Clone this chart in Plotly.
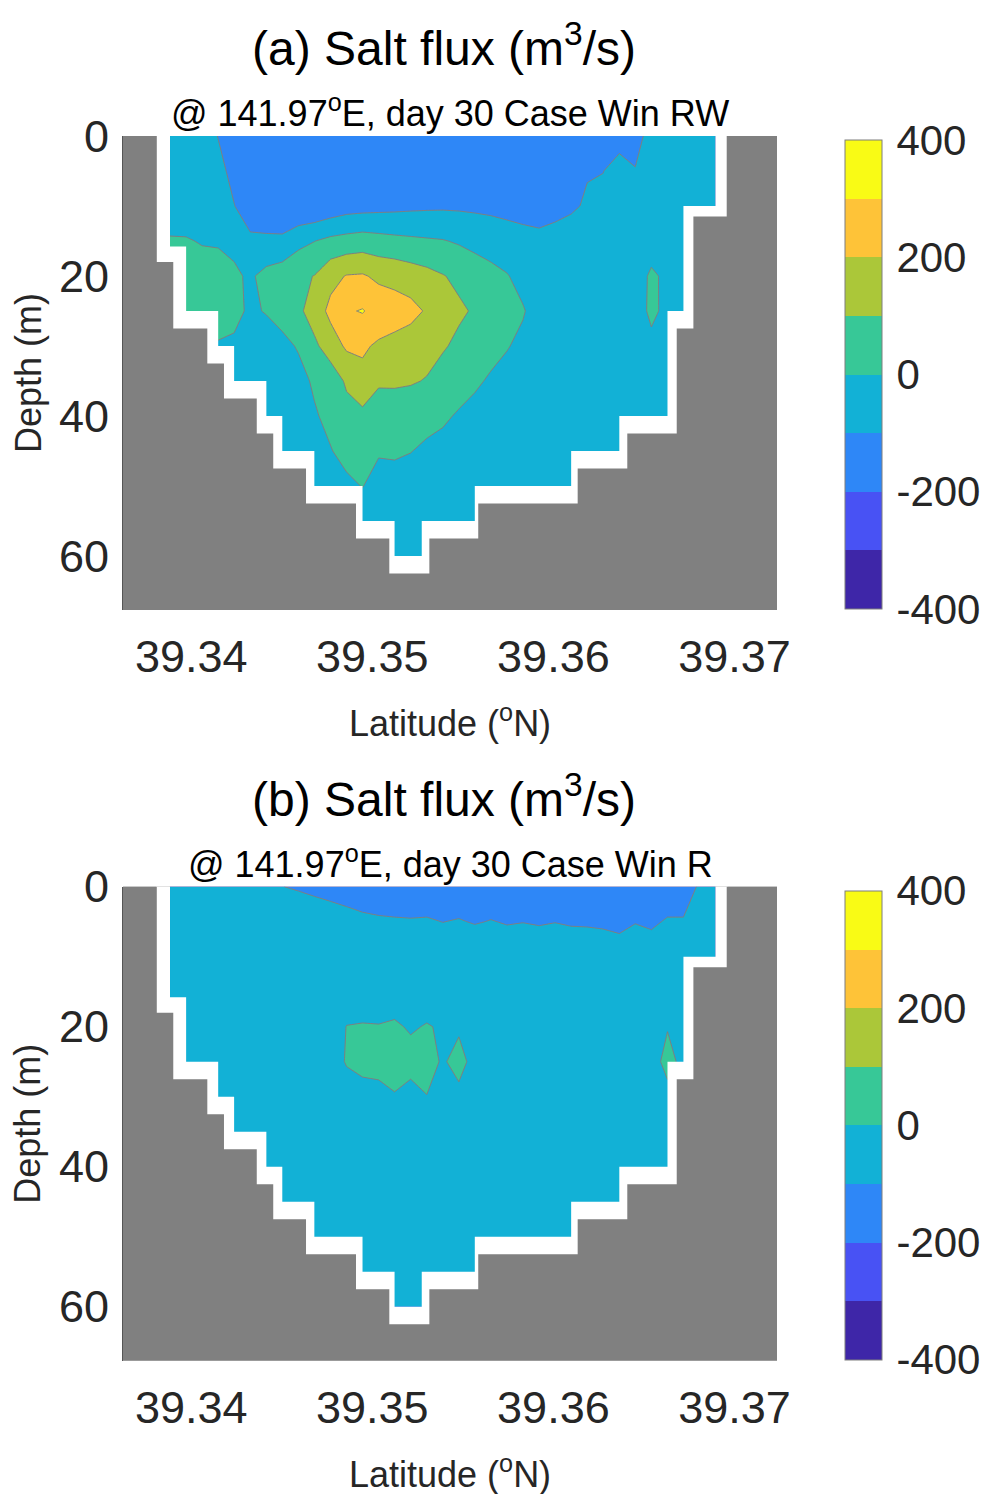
import plotly.graph_objects as go

# ---------------------------------------------------------------------------
# Model grid: latitude of the computational columns (deg N) and depth of the
# vertical levels (m).
# ---------------------------------------------------------------------------
lat_nodes = [
    39.33883, 39.33972, 39.34060, 39.34149, 39.34237, 39.34326, 39.34415,
    39.34503, 39.34592, 39.34680, 39.34769, 39.34858, 39.34946, 39.35035,
    39.35123, 39.35212, 39.35301, 39.35389, 39.35478, 39.35566, 39.35655,
    39.35744, 39.35832, 39.35921, 39.36009, 39.36098, 39.36187, 39.36275,
    39.36364, 39.36452, 39.36541, 39.36630, 39.36718, 39.36807, 39.36895,
]
depth_nodes = [0, 5, 10, 15, 20, 25, 30, 35, 40, 45, 50, 55, 60]

# Salt flux (m^3/s) on the section, case "Win RW" (rows = depth levels)
flux_rw = [
    [-60, -60, -60, -102, -150, -150, -150, -150, -150, -150, -150, -150, -150, -150, -150, -150, -150, -150, -150, -150, -150, -150, -150, -150, -150, -150, -150, -150, -150, -130, -70, -60, -60, -60, -60],
    [-60, -60, -60, -80, -120, -145, -145, -145, -145, -145, -145, -145, -145, -145, -145, -145, -145, -145, -145, -145, -145, -145, -145, -145, -145, -145, -105, -102, -50, -96, -60, -60, -60, -60, -60],
    [-60, -60, -60, -65, -98, -140, -140, -140, -190, -188, -165, -143, -137, -131, -126, -120, -116, -114, -115, -115, -119, -130, -145, -160, -134, -112, -90, -70, -60, -60, -60, -60, -60, -60, -60],
    [10, 8, -7, -10, -25, -86, -89, -90, -30, -2, 24, 36, 47, 36, 26, 18, 11, 5, -10, -40, -50, -55, -60, -65, -60, -60, -60, -60, -60, -60, -60, -60, -60, -60, -60],
    [40, 45, 45, 40, 17, -15, 33, 60, 85, 102, 170, 205, 210, 180, 170, 150, 130, 105, 80, 75, 33, 5, -30, -55, -60, -60, -60, -60, -60, -60, 20, -25, -50, -55, -60],
    [40, 40, 40, 40, 20, -12, 5, 35, 80, 145, 225, 290, 306, 265, 245, 230, 190, 150, 115, 90, 65, 35, 7, -40, -55, -60, -60, -60, -60, -60, 25, -30, -50, -55, -60],
    [-20, -20, -20, -8, -12, -40, -40, -25, 8, 80, 150, 215, 215, 185, 170, 150, 130, 110, 80, 50, 30, 5, -20, -50, -55, -60, -60, -60, -60, -60, -30, -45, -55, -60, -60],
    [-50, -50, -50, -50, -50, -50, -55, -50, -30, 13, 40, 115, 171, 110, 112, 108, 95, 60, 40, 15, -12, -30, -50, -60, -60, -60, -60, -60, -60, -60, -60, -60, -60, -60, -60],
    [-50, -50, -50, -50, -50, -50, -50, -50, -50, -10, 25, 65, 75, 60, 55, 45, 35, 15, -10, -30, -40, -60, -60, -60, -60, -60, -60, -60, -60, -60, -60, -60, -60, -60, -60],
    [-50, -50, -50, -50, -50, -50, -50, -50, -50, -50, -5, 30, 40, 10, 15, 3, -20, -30, -45, -55, -55, -55, -55, -55, -55, -55, -55, -55, -55, -55, -55, -55, -55, -55, -55],
    [-55, -55, -55, -55, -55, -55, -55, -55, -55, -55, -55, -20, 3, -40, -43, -50, -55, -55, -55, -55, -55, -55, -55, -55, -55, -55, -55, -55, -55, -55, -55, -55, -55, -55, -55],
    [-60, -60, -60, -60, -60, -60, -60, -60, -60, -60, -60, -60, -60, -60, -60, -60, -60, -60, -60, -60, -60, -60, -60, -60, -60, -60, -60, -60, -60, -60, -60, -60, -60, -60, -60],
    [-60, -60, -60, -60, -60, -60, -60, -60, -60, -60, -60, -60, -60, -60, -60, -60, -60, -60, -60, -60, -60, -60, -60, -60, -60, -60, -60, -60, -60, -60, -60, -60, -60, -60, -60],
]

# Salt flux (m^3/s) on the section, case "Win R"
flux_r = [
    [-60, -60, -60, -60, -60, -60, -60, -99, -107, -119, -136, -166, -154, -146, -153, -154, -153, -150, -150, -150, -148, -150, -150, -150, -150, -150, -150, -150, -150, -150, -150, -153, -153, -87, -60],
    [-50, -50, -50, -50, -50, -50, -50, -50, -50, -50, -50, -50, -80, -90, -92, -94, -92, -101, -95, -105, -97, -105, -102, -106, -102, -107, -108, -112, -120, -103, -113, -92, -92, -60, -55],
    [-50, -50, -50, -50, -50, -50, -50, -50, -50, -50, -50, -50, -50, -50, -50, -50, -50, -50, -50, -40, -50, -52, -35, -53, -35, -53, -55, -55, -61, -53, -56, -50, -50, -50, -50],
    [-50, -50, -50, -50, -50, -50, -50, -50, -50, -50, -50, -50, -50, -50, -50, -50, -50, -50, -50, -50, -50, -50, -50, -50, -50, -50, -50, -50, -50, -50, -50, -50, -50, -50, -50],
    [-50, -50, -50, -50, -50, -50, -50, -50, -50, -50, -50, 2, 6, 4, 13, -10, 6, -10, -11, -40, -50, -50, -50, -50, -50, -50, -50, -50, -50, -50, -45, -5, -40, -50, -50],
    [-50, -50, -50, -50, -50, -50, -50, -50, -50, -50, -50, 8, 40, 40, 40, 33, 30, -9, 27, -27, -50, -50, -50, -50, -50, -50, -50, -50, -50, -50, -40, 30, -25, -50, -50],
    [-50, -50, -50, -50, -50, -50, -50, -50, -50, -50, -50, -50, -51, -37, -6.5, -33, -2, -30, -20, -45, -50, -50, -50, -50, -50, -50, -50, -50, -50, -50, -50, -29, -50, -50, -50],
    [-50, -50, -50, -50, -50, -50, -50, -50, -50, -50, -50, -50, -50, -50, -50, -50, -50, -50, -50, -50, -50, -50, -50, -50, -50, -50, -50, -50, -50, -50, -50, -50, -50, -50, -50],
    [-50, -50, -50, -50, -50, -50, -50, -50, -50, -50, -50, -50, -50, -50, -50, -50, -50, -50, -50, -50, -50, -50, -50, -50, -50, -50, -50, -50, -50, -50, -50, -50, -50, -50, -50],
    [-50, -50, -50, -50, -50, -50, -50, -50, -50, -50, -50, -50, -50, -50, -50, -50, -50, -50, -50, -50, -50, -50, -50, -50, -50, -50, -50, -50, -50, -50, -50, -50, -50, -50, -50],
    [-50, -50, -50, -50, -50, -50, -50, -50, -50, -50, -50, -50, -50, -50, -50, -50, -50, -50, -50, -50, -50, -50, -50, -50, -50, -50, -50, -50, -50, -50, -50, -50, -50, -50, -50],
    [-50, -50, -50, -50, -50, -50, -50, -50, -50, -50, -50, -50, -50, -50, -50, -50, -50, -50, -50, -50, -50, -50, -50, -50, -50, -50, -50, -50, -50, -50, -50, -50, -50, -50, -50],
    [-50, -50, -50, -50, -50, -50, -50, -50, -50, -50, -50, -50, -50, -50, -50, -50, -50, -50, -50, -50, -50, -50, -50, -50, -50, -50, -50, -50, -50, -50, -50, -50, -50, -50, -50],
]

# Edge of the computed (wet) domain, running from the surface on the south
# side around the bottom to the surface on the north side.
domain_lat = [39.33883, 39.33883, 39.33972, 39.33972, 39.34149, 39.34149,
              39.34237, 39.34237, 39.34415, 39.34415, 39.34503, 39.34503,
              39.34680, 39.34680, 39.34946, 39.34946, 39.35123, 39.35123,
              39.35273, 39.35273, 39.35566, 39.35566, 39.36098, 39.36098,
              39.36364, 39.36364, 39.36630, 39.36630, 39.36718, 39.36718,
              39.36895, 39.36895]
domain_depth = [0, 15.8, 15.8, 25, 25, 30, 30, 35, 35, 40, 40, 45, 45, 50,
                50, 55, 55, 60, 60, 55, 55, 50, 50, 45, 45, 40, 40, 25, 25,
                10, 10, 0]

# Bathymetry (land mask cell edges) along the section
bathy_lat = [39.33810, 39.33810, 39.33901, 39.33901, 39.34089, 39.34089,
             39.34181, 39.34181, 39.34362, 39.34362, 39.34453, 39.34453,
             39.34634, 39.34634, 39.34910, 39.34910, 39.35094, 39.35094,
             39.35315, 39.35315, 39.35585, 39.35585, 39.36134, 39.36134,
             39.36408, 39.36408, 39.36681, 39.36681, 39.36773, 39.36773,
             39.36957, 39.36957]
bathy_depth = [0, 18, 18, 27.5, 27.5, 32.5, 32.5, 37.5, 37.5, 42.5, 42.5,
               47.5, 47.5, 52.5, 52.5, 57.5, 57.5, 62.5, 62.5, 57.5, 57.5,
               52.5, 52.5, 47.5, 47.5, 42.5, 42.5, 27.5, 27.5, 11.5, 11.5, 0]

# Contour levels and parula-style colours for the 8 bands (-400..400)
level_start, level_end, level_step = -400, 400, 100
band_colors = ["#3E26A8", "#4852F4", "#2E87F7", "#12B1D6",
               "#37C897", "#ABC739", "#FEC338", "#F9FB15"]

lat_ticks = [39.34, 39.35, 39.36, 39.37]
depth_ticks = [0, 20, 40, 60]
cbar_ticks = [-400, -200, 0, 200, 400]

panel_titles = ["(a) Salt flux (m<sup>3</sup>/s)", "(b) Salt flux (m<sup>3</sup>/s)"]
panel_subtitles = ["@ 141.97<sup>o</sup>E, day 30 Case Win RW",
                   "@ 141.97<sup>o</sup>E, day 30 Case Win R"]

FONT = "Liberation Sans"
TXT = "#262626"
LAND = "#808080"

# ---------------------------------------------------------------------------
# Colour scales
# ---------------------------------------------------------------------------
n_lev = len(band_colors) + 1
fill_scale = [[0.0, band_colors[0]]]
for k, c in enumerate(band_colors):
    fill_scale.append([(k + 0.5) / n_lev, c])
    fill_scale.append([(k + 1.0) / n_lev, c])
fill_scale.append([1.0, band_colors[-1]])

bar_scale = []
nb = len(band_colors)
for k, c in enumerate(band_colors):
    bar_scale.append([k / nb, c])
    bar_scale.append([(k + 1) / nb, c])

# ---------------------------------------------------------------------------
# Layout geometry
# ---------------------------------------------------------------------------
W, H = 987, 1494
x_range = [39.336234, 39.372347]
depth_max = 67.714
x_dom = [123 / W, 777 / W]
y_doms = [[1 - 610 / H, 1 - 136 / H], [1 - 1360.7 / H, 1 - 886.7 / H]]
panel_shift = [0, 750.7]

X_LO, X_HI = x_range[0] - 0.001, x_range[1] + 0.001
Y_TOP, Y_BOT = -5, depth_max + 5


def outside_of(edge_lat, edge_depth):
    xs = [X_LO] + list(edge_lat) + [X_HI, X_HI, X_LO, X_LO]
    ys = [Y_TOP] + list(edge_depth) + [Y_TOP, Y_BOT, Y_BOT, Y_TOP]
    return xs, ys


fig = go.Figure()
annotations = []
layout_axes = {}

for i, z in enumerate([flux_rw, flux_r]):
    xa = "x" if i == 0 else "x2"
    ya = "y" if i == 0 else "y2"

    fig.add_trace(go.Contour(
        x=lat_nodes, y=depth_nodes, z=z, xaxis=xa, yaxis=ya,
        colorscale=fill_scale, autocontour=False,
        contours=dict(start=level_start, end=level_end, size=level_step,
                      coloring="fill", showlines=True),
        line=dict(color="#7f7f7f", width=1, smoothing=0),
        showscale=False, hoverinfo="skip",
    ))

    # white strip between the wet domain and the land mask
    wx, wy = outside_of(domain_lat, domain_depth)
    fig.add_trace(go.Scatter(x=wx, y=wy, xaxis=xa, yaxis=ya, mode="lines",
                             fill="toself", fillcolor="white",
                             line=dict(width=0, color="white"),
                             hoverinfo="skip", showlegend=False))
    # land
    gx, gy = outside_of(bathy_lat, bathy_depth)
    fig.add_trace(go.Scatter(x=gx, y=gy, xaxis=xa, yaxis=ya, mode="lines",
                             fill="toself", fillcolor=LAND,
                             line=dict(width=0, color=LAND),
                             hoverinfo="skip", showlegend=False))

    # colour bar
    top_px = 140 + panel_shift[i]
    fig.add_trace(go.Scatter(
        x=[None], y=[None], xaxis=xa, yaxis=ya, mode="markers",
        hoverinfo="skip", showlegend=False,
        marker=dict(color=[0], colorscale=bar_scale, cmin=level_start,
                    cmax=level_end, showscale=True,
                    colorbar=dict(
                        x=845 / W, xanchor="left", y=1 - top_px / H,
                        yanchor="top", len=469.3 / H, lenmode="fraction",
                        thickness=37, thicknessmode="pixels", xpad=0, ypad=0,
                        outlinewidth=1, outlinecolor="#7f7f7f",
                        tickvals=cbar_ticks,
                        ticktext=[str(v) for v in cbar_ticks],
                        ticks="outside", ticklen=6,
                        tickcolor="rgba(0,0,0,0)",
                        tickfont=dict(family=FONT, size=42, color=TXT),
                    )),
    ))

    sfx = "" if i == 0 else "2"
    layout_axes["xaxis" + sfx] = dict(
        domain=x_dom, range=x_range, anchor=ya, showgrid=False,
        zeroline=False, showline=False, tickvals=lat_ticks, automargin=False,
        ticktext=["%.2f" % v for v in lat_ticks], ticks="outside",
        ticklen=7, tickcolor="rgba(0,0,0,0)",
        tickfont=dict(family=FONT, size=45, color=TXT), fixedrange=True,
    )
    layout_axes["yaxis" + sfx] = dict(
        domain=y_doms[i], range=[depth_max, 0], anchor=xa, showgrid=False,
        zeroline=False, showline=True, linecolor="#555555", linewidth=1,
        tickvals=depth_ticks, automargin=False,
        ticks="outside", ticklen=4, tickcolor="rgba(0,0,0,0)",
        tickfont=dict(family=FONT, size=45, color=TXT), fixedrange=True,
    )

    s = panel_shift[i]
    annotations += [
        dict(text=panel_titles[i], x=443.5 / W, y=1 - (45 + s) / H,
             xref="paper", yref="paper", showarrow=False,
             xanchor="center", yanchor="middle",
             font=dict(family=FONT, size=48, color="black")),
        dict(text=panel_subtitles[i], x=450 / W, y=1 - (111 + s) / H,
             xref="paper", yref="paper", showarrow=False,
             xanchor="center", yanchor="middle",
             font=dict(family=FONT, size=36, color="black")),
        dict(text="Depth (m)", x=28 / W, y=1 - (373 + s) / H,
             xref="paper", yref="paper", showarrow=False, textangle=-90,
             xanchor="center", yanchor="middle",
             font=dict(family=FONT, size=36, color=TXT)),
        dict(text="Latitude (<sup>o</sup>N)", x=450 / W, y=1 - (721 + s) / H,
             xref="paper", yref="paper", showarrow=False,
             xanchor="center", yanchor="middle",
             font=dict(family=FONT, size=36, color=TXT)),
    ]

fig.update_layout(
    width=W, height=H, autosize=False,
    margin=dict(l=0, r=0, t=0, b=0, autoexpand=False),
    paper_bgcolor="white", plot_bgcolor=LAND,
    showlegend=False, annotations=annotations,
    **layout_axes,
)

fig.write_html("out.html", config={"responsive": False})
